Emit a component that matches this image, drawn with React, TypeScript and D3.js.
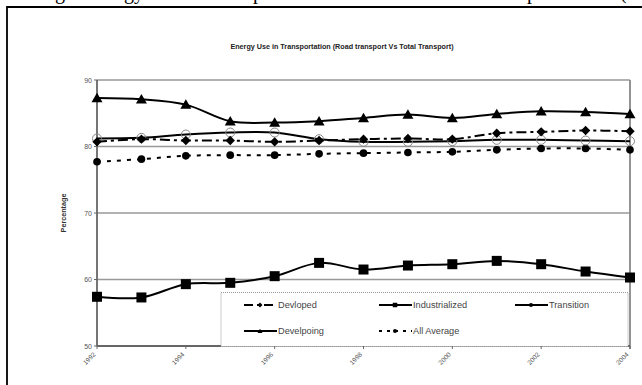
import React from "react";
import * as d3 from "d3";

const years = [1992, 1993, 1994, 1995, 1996, 1997, 1998, 1999, 2000, 2001, 2002, 2003, 2004];
const developed = [80.7, 81.1, 80.9, 80.9, 80.7, 80.9, 81.1, 81.2, 81.1, 82.0, 82.2, 82.4, 82.3];
const industrialized = [57.4, 57.3, 59.3, 59.5, 60.5, 62.5, 61.5, 62.1, 62.3, 62.8, 62.3, 61.2, 60.3];
const transition = [81.2, 81.3, 81.8, 82.1, 82.1, 81.1, 80.7, 80.7, 80.8, 81.0, 81.0, 80.9, 80.8];
const developing = [87.3, 87.1, 86.3, 83.8, 83.6, 83.8, 84.3, 84.8, 84.3, 84.9, 85.3, 85.2, 84.9];
const allAverage = [77.7, 78.1, 78.6, 78.7, 78.7, 78.9, 79.0, 79.1, 79.2, 79.5, 79.7, 79.7, 79.5];
const yTicks = [50, 60, 70, 80, 90];
const xTickYears = [1992, 1994, 1996, 1998, 2000, 2002, 2004];
const title = "Energy Use in Transportation (Road transport Vs Total Transport)";
const yLabel = "Percentage";
const legendNames = ["Devloped", "Industrialized", "Transition", "Develpoing", "All Average"];
const captionFragments = ["g", "gy", "p", "p", "("];

type Marker = "diamond" | "square" | "ocircle" | "triangle" | "circle";

function MarkerShape({ kind, x, y, s }: { kind: Marker; x: number; y: number; s: number }) {
  const h = s / 2;
  if (kind === "diamond")
    return <path d={`M${x},${y - h * 1.1}L${x + h * 1.1},${y}L${x},${y + h * 1.1}L${x - h * 1.1},${y}Z`} fill="#000" />;
  if (kind === "square") return <rect x={x - h} y={y - h} width={s} height={s} fill="#000" />;
  if (kind === "triangle")
    return <path d={`M${x},${y - h * 1.05}L${x + h * 1.1},${y + h * 0.85}L${x - h * 1.1},${y + h * 0.85}Z`} fill="#000" />;
  if (kind === "circle") return <circle cx={x} cy={y} r={h * 0.9} fill="#000" />;
  return <circle cx={x} cy={y} r={h} fill="none" stroke="#888" strokeWidth={1} />;
}

export default function App() {
  const x = d3.scaleLinear().domain([1992, 2004]).range([97, 630]);
  const y = d3.scaleLinear().domain([50, 90]).range([346, 80]);
  const line = d3
    .line<number>()
    .x((_, i) => x(years[i]))
    .y((d) => y(d))
    .curve(d3.curveCatmullRom.alpha(0.5));

  const series: { name: string; data: number[]; marker: Marker; dash?: string; size: number }[] = [
    { name: legendNames[1], data: industrialized, marker: "square", size: 10 },
    { name: legendNames[4], data: allAverage, marker: "circle", dash: "4,6", size: 8.5 },
    { name: legendNames[2], data: transition, marker: "ocircle", size: 9 },
    { name: legendNames[0], data: developed, marker: "diamond", dash: "10,4,3,4", size: 8.5 },
    { name: legendNames[3], data: developing, marker: "triangle", size: 10 },
  ];

  const legendItems: { name: string; marker: Marker; dash?: string; col: number; row: number }[] = [
    { name: legendNames[0], marker: "diamond", dash: "9,4,3,4", col: 0, row: 0 },
    { name: legendNames[1], marker: "square", col: 1, row: 0 },
    { name: legendNames[2], marker: "ocircle", col: 2, row: 0 },
    { name: legendNames[3], marker: "triangle", col: 0, row: 1 },
    { name: legendNames[4], marker: "circle", dash: "3,5", col: 1, row: 1 },
  ];
  const colX = [244, 379, 515];
  const rowY = [305, 331];
  const captionX = [55, 124, 253, 527, 620];

  return (
    <svg
      width={642}
      height={385}
      style={{ position: "absolute", left: 0, top: 0, background: "#fff", overflow: "hidden" }}
      fontFamily="'Liberation Sans', Arial, sans-serif"
    >
      <rect x={0} y={0} width={642} height={385} fill="#fff" />
      {/* clipped document caption above the frame: only descenders visible */}
      <g fontFamily="'Liberation Serif', 'Times New Roman', serif" fontSize={20} fill="#000">
        {captionFragments.map((c, i) => (
          <text key={i} x={captionX[i]} y={-1}>
            {c}
          </text>
        ))}
      </g>
      {/* outer frame */}
      <path d="M7,400V7H660" fill="none" stroke="#000" strokeWidth={1.8} />

      <text x={342} y={49} textAnchor="middle" fontSize={7.2} fontWeight="bold" fill="#222">
        {title}
      </text>

      {/* gridlines */}
      {yTicks.slice(1).map((t) => (
        <line key={t} x1={x(1992)} x2={x(2004)} y1={y(t)} y2={y(t)} stroke="#999" strokeWidth={1.4} />
      ))}
      {/* plot borders */}
      <line x1={x(2004)} x2={x(2004)} y1={y(90)} y2={y(50) + 3} stroke="#888" strokeWidth={1.8} />
      <line x1={x(1992)} x2={x(1992)} y1={y(90)} y2={y(50)} stroke="#666" strokeWidth={1.8} />
      <line x1={x(1992)} x2={x(2004)} y1={y(50)} y2={y(50)} stroke="#666" strokeWidth={1.8} />

      {/* y tick labels */}
      {yTicks.map((t) => (
        <g key={t}>
          <line x1={x(1992) - 3} x2={x(1992)} y1={y(t)} y2={y(t)} stroke="#666" strokeWidth={1} />
          <text x={x(1992) - 5} y={y(t) + 2.5} textAnchor="end" fontSize={7} fill="#555">
            {t}
          </text>
        </g>
      ))}
      <text
        transform={`translate(66,${y(70)}) rotate(-90)`}
        textAnchor="middle"
        fontSize={7.2}
        fontWeight="bold"
        fill="#333"
      >
        {yLabel}
      </text>

      {/* series */}
      {series.map((s) => (
        <g key={s.name}>
          <path d={line(s.data) || ""} fill="none" stroke="#000" strokeWidth={2} strokeDasharray={s.dash} />
          {s.data.map((v, i) => (
            <MarkerShape key={i} kind={s.marker} x={x(years[i])} y={y(v)} s={s.size} />
          ))}
        </g>
      ))}

      {/* legend */}
      <rect x={221} y={292.5} width={407} height={54} fill="#fff" stroke="#999" strokeWidth={1} strokeDasharray="1,1" />
      {legendItems.map((it) => {
        const lx = colX[it.col];
        const ly = rowY[it.row];
        return (
          <g key={it.name}>
            <line x1={lx} x2={lx + 33} y1={ly} y2={ly} stroke="#000" strokeWidth={2} strokeDasharray={it.dash} />
            <MarkerShape kind={it.marker === "ocircle" ? "circle" : it.marker} x={lx + 16} y={ly} s={4.5} />
            <text x={lx + 34} y={ly + 3.3} fontSize={9.2} fill="#444">
              {it.name}
            </text>
          </g>
        );
      })}

      {/* x ticks and labels */}
      {xTickYears.map((yr) => (
        <g key={yr}>
          <line x1={x(yr)} x2={x(yr)} y1={y(50)} y2={y(50) + 3} stroke="#666" strokeWidth={1} />
          <text
            transform={`translate(${x(yr) - 1},${y(50) + 9}) rotate(-45)`}
            textAnchor="end"
            fontSize={6.5}
            fill="#555"
          >
            {yr}
          </text>
        </g>
      ))}
    </svg>
  );
}
